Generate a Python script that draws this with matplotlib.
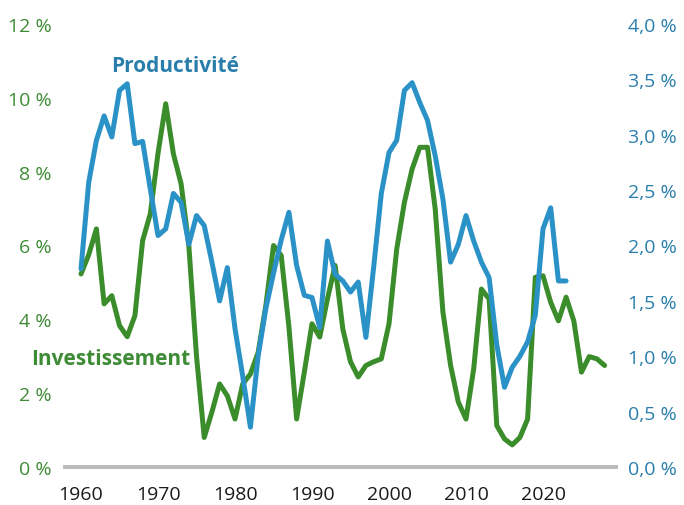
import numpy as np
import matplotlib
matplotlib.use('Agg')
import matplotlib.pyplot as plt

plt.rcParams['font.family'] = ['Open Sans', 'DejaVu Sans']

# investissement (left axis, %), 1960-2028
inv_years = list(range(1960, 2029))
investissement = [
    5.23, 5.75, 6.45, 4.42, 4.64, 3.83, 3.53, 4.10, 6.13, 6.86,   # 1960s
    8.50, 9.84, 8.48, 7.67, 6.00, 3.00, 0.80, 1.49, 2.25, 1.93,   # 1970s
    1.30, 2.25, 2.52, 3.10, 4.37, 6.00, 5.73, 3.80, 1.30, 2.57,   # 1980s
    3.88, 3.52, 4.55, 5.46, 3.74, 2.85, 2.44, 2.75, 2.85, 2.93,   # 1990s
    3.88, 5.90, 7.17, 8.07, 8.66, 8.66, 6.99, 4.20, 2.75, 1.76,   # 2000s
    1.30, 2.66, 4.82, 4.55, 1.12, 0.76, 0.60, 0.80, 1.30, 5.14,   # 2010s
    5.18, 4.46, 3.96, 4.60, 3.96, 2.57, 2.99, 2.93, 2.75,         # 2020s
]

# productivite (right axis, %), 1960-2023
prod_years = list(range(1960, 2024))
productivite = [
    1.79, 2.57, 2.95, 3.17, 2.98, 3.40, 3.46, 2.92, 2.94, 2.51,
    2.09, 2.15, 2.47, 2.39, 2.01, 2.27, 2.18, 1.85, 1.50, 1.80,
    1.25, 0.82, 0.36, 1.00, 1.43, 1.75, 2.05, 2.30, 1.82, 1.55,
    1.53, 1.26, 2.04, 1.74, 1.68, 1.58, 1.67, 1.17, 1.80, 2.47,
    2.84, 2.95, 3.40, 3.47, 3.29, 3.13, 2.81, 2.42, 1.85, 2.01,
    2.27, 2.04, 1.85, 1.71, 1.10, 0.72, 0.90, 1.00, 1.13, 1.37,
    2.15, 2.34, 1.68, 1.68,
]

left_ticks = [0, 2, 4, 6, 8, 10, 12]
right_ticks = [0.0, 0.5, 1.0, 1.5, 2.0, 2.5, 3.0, 3.5, 4.0]
x_ticks = [1960, 1970, 1980, 1990, 2000, 2010, 2020]

GREEN = '#3b8c2b'
BLUE = '#2b92c7'
GREEN_TXT = '#3d8b35'
BLUE_TXT = '#2a7eab'

fig = plt.figure(figsize=(6.84, 5.06), dpi=100)
ax = fig.add_axes([63 / 684, 38 / 506, 555 / 684, 443 / 506])
ax2 = ax.twinx()

ax.plot(inv_years, investissement, color=GREEN, lw=3.6, solid_capstyle='round',
        solid_joinstyle='round')
ax2.plot(prod_years, productivite, color=BLUE, lw=3.6, solid_capstyle='round',
         solid_joinstyle='round')

ax.set_xlim(1957.66, 2029.74)
ax.set_ylim(0, 12)
ax2.set_ylim(0, 4)

ax.set_xticks(x_ticks)
ax.set_xticklabels([str(y) for y in x_ticks], fontsize=14, color='#1a1a1a')
ax.set_yticks(left_ticks)
ax.set_yticklabels(['%d %%' % v for v in left_ticks], fontsize=14, color=GREEN_TXT)
ax2.set_yticks(right_ticks)
ax2.set_yticklabels([('%.1f %%' % v).replace('.', ',') for v in right_ticks],
                    fontsize=14, color=BLUE_TXT)

ax.tick_params(axis='x', length=0, pad=13)
ax.tick_params(axis='y', length=0, pad=8)
ax2.tick_params(axis='y', length=0, pad=7)

for a in (ax, ax2):
    for side in ('top', 'left', 'right', 'bottom'):
        a.spines[side].set_visible(False)
ax.spines['bottom'].set_visible(True)
ax.spines['bottom'].set_color('#bbbbbb')
ax.spines['bottom'].set_linewidth(2.9)
ax.spines['bottom'].set_capstyle('butt')

ax.text(1972.2, 10.88, 'Productivité', color=BLUE_TXT, fontsize=15,
        fontweight='bold', ha='center', va='center')
ax.text(1963.8, 2.93, 'Investissement', color=GREEN_TXT, fontsize=15,
        fontweight='bold', ha='center', va='center')

fig.savefig('out.png', dpi=100)
